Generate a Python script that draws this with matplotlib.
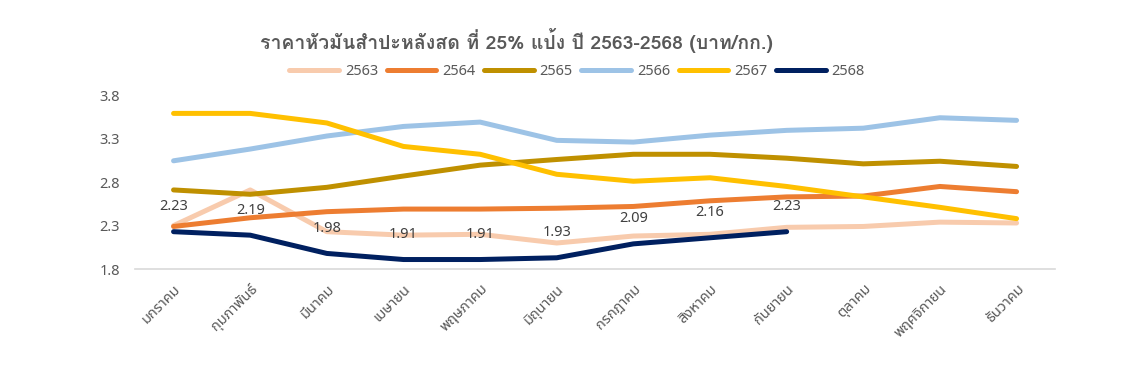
import matplotlib
matplotlib.use("Agg")
import matplotlib.pyplot as plt
import numpy as np

plt.rcParams['font.family'] = ['Noto Sans', 'Noto Sans Thai', 'DejaVu Sans']

# ข้อมูล
months = ["มกราคม", "กุมภาพันธ์", "มีนาคม", "เมษายน", "พฤษภาคม", "มิถุนายน",
          "กรกฎาคม", "สิงหาคม", "กันยายน", "ตุลาคม", "พฤศจิกายน", "ธันวาคม"]
p2563 = [2.30, 2.71, 2.23, 2.19, 2.20, 2.10, 2.18, 2.20, 2.28, 2.29, 2.34, 2.33]
p2564 = [2.29, 2.39, 2.46, 2.49, 2.49, 2.50, 2.52, 2.585, 2.63, 2.64, 2.75, 2.69]
p2565 = [2.71, 2.66, 2.74, 2.87, 2.995, 3.06, 3.12, 3.12, 3.075, 3.01, 3.04, 2.98]
p2566 = [3.045, 3.18, 3.33, 3.44, 3.49, 3.28, 3.26, 3.34, 3.395, 3.42, 3.54, 3.51]
p2567 = [3.59, 3.59, 3.48, 3.21, 3.12, 2.89, 2.81, 2.85, 2.75, 2.63, 2.51, 2.38]
p2568 = [2.23, 2.19, 1.98, 1.91, 1.91, 1.93, 2.09, 2.16, 2.23]

years = ["2563", "2564", "2565", "2566", "2567", "2568"]
colors = ["#F8CBAD", "#ED7D31", "#BF9000", "#9DC3E6", "#FFC000", "#002060"]
series = [p2563, p2564, p2565, p2566, p2567, p2568]

fig = plt.figure(figsize=(11.27, 3.79), dpi=100)
ax = fig.add_axes([0.12, 0.29, 0.816, 0.459])

x = np.arange(len(months))
for name, vals, c in zip(years, series, colors):
    ax.plot(x[:len(vals)], vals, color=c, lw=3.6, solid_capstyle='round',
            solid_joinstyle='round', label=name)

# ป้ายค่าของปี 2568
for xi, v in zip(x, p2568):
    ax.annotate(f"{v:.2f}", (xi, v), xytext=(0, 18), textcoords='offset points',
                ha='center', va='center', fontsize=10.5, color='#404040')

ax.set_xlim(-0.5, 11.5)
ax.set_ylim(1.8, 3.8)
ax.set_yticks([1.8, 2.3, 2.8, 3.3, 3.8])
ax.set_yticklabels(["1.8", "2.3", "2.8", "3.3", "3.8"])
ax.set_xticks(x)
ax.set_xticklabels(months, rotation=45, ha='right', va='top', rotation_mode='anchor')
ax.tick_params(axis='both', length=0, labelsize=10.5, labelcolor='#595959')
ax.tick_params(axis='y', pad=11)
ax.tick_params(axis='x', pad=9)

for s in ['top', 'right', 'left']:
    ax.spines[s].set_visible(False)
ax.spines['bottom'].set_color('#D9D9D9')
ax.spines['bottom'].set_linewidth(1.2)

fig.text(0.458, 0.893, "ราคาหัวมันสำปะหลังสด ที่ 25% แป้ง ปี 2563-2568 (บาท/กก.)",
         ha='center', va='center', fontsize=14, fontweight='bold', color='#595959',
         family=['Loma', 'DejaVu Sans'])

fig.legend(loc='center', bbox_to_anchor=(0.512, 0.812), ncol=6, frameon=False,
           fontsize=10.5, handlelength=3.4, handletextpad=0.4, columnspacing=0.6,
           labelcolor='#595959')

fig.savefig("out.png", dpi=100)
